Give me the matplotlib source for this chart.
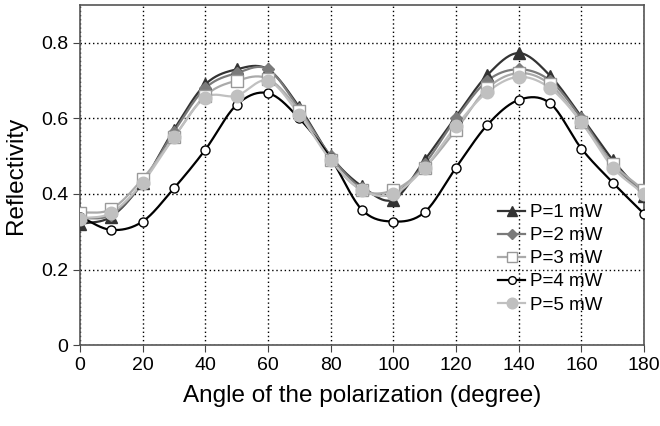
'''
Reflectivity vs polarization angle for several pump powers
'''
import numpy as np
import matplotlib
matplotlib.use('Agg')
import matplotlib.pyplot as plt

plt.rcParams['font.family'] = ['Liberation Sans', 'DejaVu Sans']

# Data
angle = [0, 10, 20, 30, 40, 50, 60, 70, 80, 90, 100, 110, 120, 130, 140, 150, 160, 170, 180]
p1 = [0.32, 0.34, 0.43, 0.57, 0.69, 0.73, 0.73, 0.63, 0.50, 0.42, 0.385, 0.49, 0.605, 0.715, 0.773, 0.713, 0.604, 0.49, 0.395]
p2 = [0.335, 0.345, 0.43, 0.565, 0.68, 0.72, 0.73, 0.625, 0.50, 0.415, 0.40, 0.48, 0.60, 0.70, 0.73, 0.70, 0.60, 0.48, 0.40]
p3 = [0.35, 0.36, 0.44, 0.55, 0.66, 0.70, 0.705, 0.62, 0.49, 0.41, 0.41, 0.47, 0.57, 0.68, 0.72, 0.69, 0.59, 0.48, 0.41]
p4 = [0.34, 0.305, 0.327, 0.415, 0.517, 0.636, 0.667, 0.60, 0.495, 0.358, 0.327, 0.352, 0.47, 0.583, 0.649, 0.64, 0.52, 0.43, 0.347]
p5 = [0.335, 0.35, 0.43, 0.55, 0.655, 0.66, 0.70, 0.61, 0.49, 0.41, 0.40, 0.47, 0.58, 0.67, 0.71, 0.68, 0.59, 0.47, 0.40]
labels = ['P=1 mW', 'P=2 mW', 'P=3 mW', 'P=4 mW', 'P=5 mW']


def smooth(x, y, n=20):
    # Catmull-Rom curve through the points (like the spreadsheet's smoothed line)
    x = np.asarray(x, float)
    y = np.asarray(y, float)
    px = np.concatenate([[2 * x[0] - x[1]], x, [2 * x[-1] - x[-2]]])
    py = np.concatenate([[2 * y[0] - y[1]], y, [2 * y[-1] - y[-2]]])
    t = np.linspace(0, 1, n, endpoint=False)
    xs, ys = [], []
    for i in range(1, len(px) - 2):
        for arr, out in ((px, xs), (py, ys)):
            a0, a1, a2, a3 = arr[i - 1], arr[i], arr[i + 1], arr[i + 2]
            out.extend(0.5 * (2 * a1 + (-a0 + a2) * t + (2 * a0 - 5 * a1 + 4 * a2 - a3) * t ** 2
                              + (-a0 + 3 * a1 - 3 * a2 + a3) * t ** 3))
    xs.append(x[-1])
    ys.append(y[-1])
    return xs, ys


styles = [
    dict(color='#333333', marker='^', mfc='#333333', mec='#333333', ms=8),
    dict(color='#7a7a7a', marker='D', mfc='#7a7a7a', mec='#7a7a7a', ms=6),
    dict(color='#aaaaaa', marker='s', mfc='white', mec='#999999', ms=8),
    dict(color='black', marker='o', mfc='white', mec='black', ms=6.5),
    dict(color='#c0c0c0', marker='o', mfc='#c0c0c0', mec='#c0c0c0', ms=9),
]

fig = plt.figure(figsize=(6.6, 4.26), dpi=100)
ax = fig.add_axes([0.121, 0.19, 0.855, 0.798])

for ys, lab, st in zip([p1, p2, p3, p4, p5], labels, styles):
    sx, sy = smooth(angle, ys)
    ax.plot(sx, sy, color=st['color'], lw=1.6, zorder=2)
    ax.plot(angle, ys, ls='none', marker=st['marker'], ms=st['ms'],
            mfc=st['mfc'], mec=st['mec'], mew=1.0, zorder=3)
    ax.plot([], [], color=st['color'], lw=1.6, marker=st['marker'], ms=st['ms'] * 0.85,
            mfc=st['mfc'], mec=st['mec'], mew=1.0, label=lab)

ax.set_xlim(0, 180)
ax.set_ylim(0, 0.9)
ax.set_xticks(range(0, 181, 20))
ax.set_yticks([0, 0.2, 0.4, 0.6, 0.8])
ax.set_yticklabels(['0', '0.2', '0.4', '0.6', '0.8'])
ax.grid(True, color='black', ls=(0, (1, 2)), lw=1.0)
ax.set_axisbelow(True)
ax.tick_params(labelsize=14, direction='out', length=5, color='#444444')
for s in ax.spines.values():
    s.set_color('#555555')
    s.set_linewidth(1.2)

ax.set_xlabel('Angle of the polarization (degree)', fontsize=17.5, labelpad=8)
ax.set_ylabel('Reflectivity', fontsize=17.5, labelpad=10)

ax.legend(loc='upper left', bbox_to_anchor=(0.741, 0.415), frameon=False, fontsize=13.5,
          handlelength=1.45, handletextpad=0.27, labelspacing=0.32, borderpad=0,
          borderaxespad=0)

fig.savefig('out.png', dpi=100)
